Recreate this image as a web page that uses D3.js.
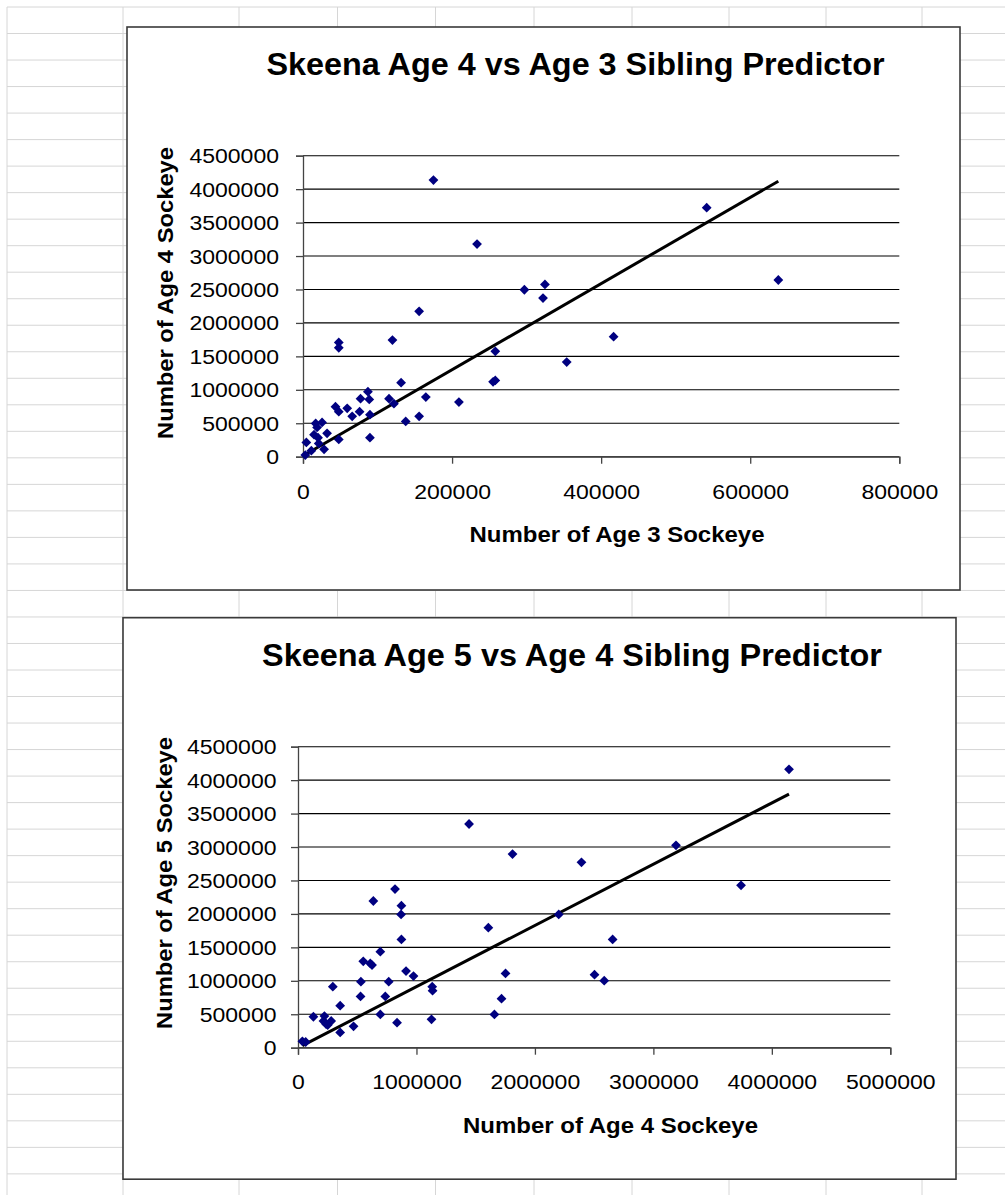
<!DOCTYPE html>
<html>
<head>
<meta charset="utf-8">
<script src="https://cdn.jsdelivr.net/npm/d3@7"></script>
<style>
  html, body { margin: 0; padding: 0; background: #fff; }
  svg { display: block; }
  text { font-family: "Liberation Sans", Arial, sans-serif; }
</style>
</head>
<body>
<svg id="chart" width="1005" height="1195"></svg>
<script>
// ---------- DATA ----------
const chartTitles = ["Skeena Age 4 vs Age 3 Sibling Predictor", "Skeena Age 5 vs Age 4 Sibling Predictor"];
const xTitles = ["Number of Age 3 Sockeye", "Number of Age 4 Sockeye"];
const yTitles = ["Number of Age 4 Sockeye", "Number of Age 5 Sockeye"];

// Chart 1: Age 3 (x) vs Age 4 (y)
const age3Top = [175000, 233500, 297000, 324600, 322000, 155800, 120000, 48000, 48000, 416700,
  258000, 353800, 255000, 258000, 131600, 87100, 77200, 88900, 115400, 122000,
  164800, 209200, 43600, 48000, 59300, 66000, 75900, 89800, 155800, 137800,
  17000, 25600, 18900, 14800, 32300, 20200, 48000, 89800, 4500, 21100,
  28300, 11200, 3100, 541600, 637700];
const age4Top = [4136000, 3179000, 2496000, 2576000, 2372000, 2173000, 1744000, 1709000, 1629000, 1794000,
  1575000, 1415000, 1120000, 1140000, 1106000, 972000, 867000, 857000, 867000, 792000,
  892000, 817000, 747000, 673000, 723000, 603000, 673000, 628000, 603000, 528000,
  498000, 513000, 438000, 329000, 349000, 284000, 259000, 284000, 214000, 199000,
  110000, 90000, 25000, 3723000, 2642000];

// Chart 2: Age 4 (x) vs Age 5 (y)
const age4Bottom = [1444000, 1811000, 2393000, 819000, 636000, 873000, 870000, 2201000, 1607000, 2656000,
  873000, 695000, 551000, 610000, 625000, 912000, 975000, 1752000, 2503000, 2585000,
  531000, 766000, 294000, 1133000, 1136000, 528000, 737000, 1718000, 356000, 695000,
  1658000, 130000, 223000, 215000, 280000, 251000, 237000, 469000, 836000, 1127000,
  356000, 37000, 65000, 4145000, 3191000, 3740000];
const age5Bottom = [3344000, 2895000, 2771000, 2372000, 2193000, 2123000, 1993000, 1993000, 1794000, 1619000,
  1619000, 1435000, 1291000, 1260000, 1235000, 1146000, 1071000, 1111000, 1091000, 1002000,
  987000, 987000, 912000, 912000, 852000, 767000, 767000, 733000, 628000, 498000,
  498000, 463000, 473000, 399000, 399000, 339000, 354000, 319000, 374000, 424000,
  229000, 95000, 85000, 4162000, 3026000, 2428000];

// Linear trendlines (slope, intercept)
const trendTop = { slope: 6.44, intercept: 12000 };
const trendBottom = { slope: 0.9155, intercept: -3000 };

// Tick values
const yTickValues = [0, 500000, 1000000, 1500000, 2000000, 2500000, 3000000, 3500000, 4000000, 4500000];
const xTickValuesTop = [0, 200000, 400000, 600000, 800000];
const xTickValuesBottom = [0, 1000000, 2000000, 3000000, 4000000, 5000000];

// ---------- LAYOUT ----------
const svg = d3.select("#chart");

// Spreadsheet background grid
const colLines = [7, 123, 239, 337.5, 435.5, 534, 632, 729, 826, 922];
const rowStep = 26.52;
const rowLines = d3.range(7, 1195, rowStep);
const bg = svg.append("g");
bg.selectAll("line.col").data(colLines).join("line")
  .attr("x1", d => d).attr("x2", d => d).attr("y1", 7).attr("y2", 1195)
  .attr("stroke", "#d6d6d6").attr("stroke-width", 1);
bg.selectAll("line.row").data(rowLines).join("line")
  .attr("x1", 7).attr("x2", 1005).attr("y1", d => d).attr("y2", d => d)
  .attr("stroke", "#d6d6d6").attr("stroke-width", 1);

const charts = [
  {
    box: { x: 127, y: 27, w: 833, h: 563 },
    plot: { left: 303, right: 899.3, top: 155.7, bottom: 456.7 },
    xDomain: [0, 800000], xTicks: xTickValuesTop,
    xs: age3Top, ys: age4Top, trend: trendTop,
    title: chartTitles[0], titleX: 575.5, titleY: 75, titleLen: 618,
    xTitle: xTitles[0], xTitleX: 617, xTitleY: 542,
    yTitle: yTitles[0], yTitleX: 173, yTitleY: 293,
    tickLabelY: 499, yLabelRight: 279
  },
  {
    box: { x: 123, y: 617.7, w: 833, h: 561.5 },
    plot: { left: 298, right: 890.3, top: 746.7, bottom: 1047.7 },
    xDomain: [0, 5000000], xTicks: xTickValuesBottom,
    xs: age4Bottom, ys: age5Bottom, trend: trendBottom,
    title: chartTitles[1], titleX: 572, titleY: 666, titleLen: 620,
    xTitle: xTitles[1], xTitleX: 610.5, xTitleY: 1133,
    yTitle: yTitles[1], yTitleX: 171.5, yTitleY: 883,
    tickLabelY: 1089, yLabelRight: 276.5
  }
];

const digitW = 12.8;

charts.forEach(c => {
  const g = svg.append("g");
  // Chart box
  g.append("rect")
    .attr("x", c.box.x).attr("y", c.box.y).attr("width", c.box.w).attr("height", c.box.h)
    .attr("fill", "#fff").attr("stroke", "#3a3a3a").attr("stroke-width", 1.6);

  const x = d3.scaleLinear().domain(c.xDomain).range([c.plot.left, c.plot.right]);
  const y = d3.scaleLinear().domain([0, 4500000]).range([c.plot.bottom, c.plot.top]);

  // Horizontal gridlines
  g.selectAll("line.grid").data(yTickValues).join("line")
    .attr("x1", c.plot.left).attr("x2", c.plot.right)
    .attr("y1", d => y(d)).attr("y2", d => y(d))
    .attr("stroke", "#000").attr("stroke-width", 1.1);

  // Y axis
  const yAxis = g.append("g").attr("transform", `translate(${c.plot.left},0)`)
    .call(d3.axisLeft(y).tickValues(yTickValues).tickFormat(d3.format("d")).tickSizeOuter(0).tickSize(7).tickPadding(0));
  yAxis.select(".domain").attr("stroke", "#444").attr("stroke-width", 1.3);
  yAxis.selectAll(".tick line").attr("stroke", "#444").attr("stroke-width", 1.3);
  yAxis.selectAll(".tick text")
    .attr("x", c.yLabelRight - c.plot.left)
    .attr("dy", "0.36em")
    .attr("font-size", 19.5).attr("fill", "#000")
    .attr("font-family", "Liberation Sans, Arial, sans-serif")
    .attr("textLength", function() { return this.textContent.length * digitW; })
    .attr("lengthAdjust", "spacingAndGlyphs");

  // X axis
  const xAxis = g.append("g").attr("transform", `translate(0,${c.plot.bottom})`)
    .call(d3.axisBottom(x).tickValues(c.xTicks).tickFormat(d3.format("d")).tickSizeOuter(0).tickSize(7));
  xAxis.select(".domain").attr("stroke", "#444").attr("stroke-width", 1.3);
  xAxis.selectAll(".tick line").attr("stroke", "#444").attr("stroke-width", 1.3);
  xAxis.selectAll(".tick text")
    .attr("y", c.tickLabelY - c.plot.bottom).attr("dy", 0)
    .attr("font-size", 19.5).attr("fill", "#000")
    .attr("font-family", "Liberation Sans, Arial, sans-serif")
    .attr("textLength", function() { return this.textContent.length * digitW; })
    .attr("lengthAdjust", "spacingAndGlyphs");

  // Trendline across the data range
  const xmin = d3.min(c.xs), xmax = d3.max(c.xs);
  g.append("line")
    .attr("x1", x(xmin)).attr("y1", y(c.trend.slope * xmin + c.trend.intercept))
    .attr("x2", x(xmax)).attr("y2", y(c.trend.slope * xmax + c.trend.intercept))
    .attr("stroke", "#000").attr("stroke-width", 3).attr("stroke-linecap", "butt");

  // Points (diamonds)
  const pts = c.xs.map((v, i) => [v, c.ys[i]]);
  const sym = d3.symbol(d3.symbolSquare, 48);
  g.selectAll("path.pt").data(pts).join("path")
    .attr("d", sym)
    .attr("transform", d => `translate(${x(d[0])},${y(d[1])}) rotate(45)`)
    .attr("fill", "#000080");

  // Title
  g.append("text")
    .attr("x", c.titleX).attr("y", c.titleY)
    .attr("text-anchor", "middle")
    .attr("font-size", 31).attr("font-weight", "bold").attr("fill", "#000")
    .attr("textLength", c.titleLen).attr("lengthAdjust", "spacingAndGlyphs")
    .text(c.title);

  // X title
  g.append("text")
    .attr("x", c.xTitleX).attr("y", c.xTitleY)
    .attr("text-anchor", "middle")
    .attr("font-size", 21.5).attr("font-weight", "bold").attr("fill", "#000")
    .attr("textLength", 295).attr("lengthAdjust", "spacingAndGlyphs")
    .text(c.xTitle);

  // Y title
  g.append("text")
    .attr("transform", `translate(${c.yTitleX},${c.yTitleY}) rotate(-90)`)
    .attr("text-anchor", "middle")
    .attr("font-size", 22).attr("font-weight", "bold").attr("fill", "#000")
    .attr("textLength", 292).attr("lengthAdjust", "spacingAndGlyphs")
    .text(c.yTitle);
});
</script>
</body>
</html>
